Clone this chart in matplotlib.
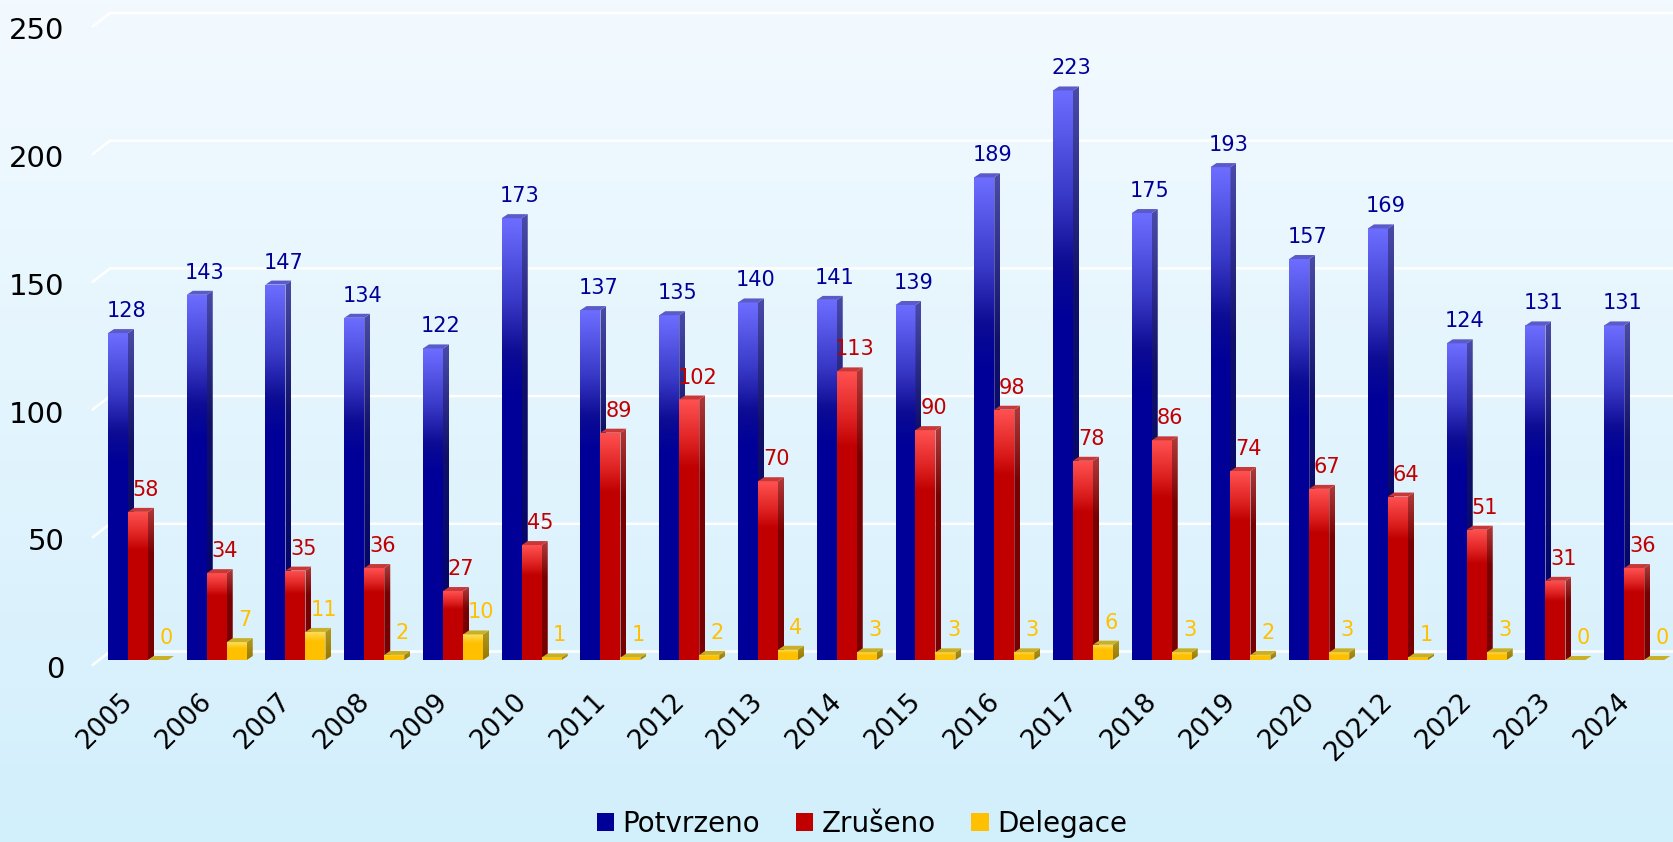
"""Grouped pseudo-3D bar chart: Potvrzeno / Zrušeno / Delegace by year."""

import matplotlib

matplotlib.use("Agg")
import matplotlib.pyplot as plt
import numpy as np
from matplotlib.colors import to_rgb
from matplotlib.patches import Polygon, Rectangle
from matplotlib.transforms import ScaledTranslation

YEARS = ["2005", "2006", "2007", "2008", "2009", "2010", "2011", "2012",
         "2013", "2014", "2015", "2016", "2017", "2018", "2019", "2020",
         "20212", "2022", "2023", "2024"]
POTVRZENO = [128, 143, 147, 134, 122, 173, 137, 135, 140, 141,
             139, 189, 223, 175, 193, 157, 169, 124, 131, 131]
ZRUSENO = [58, 34, 35, 36, 27, 45, 89, 102, 70, 113,
           90, 98, 78, 86, 74, 67, 64, 51, 31, 36]
DELEGACE = [0, 7, 11, 2, 10, 1, 1, 2, 4, 3,
            3, 3, 6, 3, 2, 3, 1, 3, 0, 0]
SERIES = ["Potvrzeno", "Zrušeno", "Delegace"]
YTICKS = [0, 50, 100, 150, 200, 250]

W, H, DPI = 1674, 842, 100
GROUP_PX = 78.75          # pixels between group centres
PX_PER_UNIT = 2.555       # pixels per value unit
BAR_W = 20 / GROUP_PX
DEPTH_X = 6 / GROUP_PX
DEPTH_Y = 4 / PX_PER_UNIT

STYLE = {
    "Potvrzeno": dict(
        face=[(0, "#6c6cff"), (0.18, "#3a3ac8"), (0.3, "#0c0c94"),
              (0.4, "#000099"), (1, "#000099")],
        side=[(0, "#4a4aa8"), (0.35, "#10106a"), (1, "#00006a")],
        top="#5a5ac8", text="#000099", legend="#000099"),
    "Zrušeno": dict(
        face=[(0, "#ff5050"), (0.15, "#e02424"), (0.26, "#c00000"),
              (1, "#c00000")],
        side=[(0, "#b03a3a"), (0.3, "#780000"), (1, "#780000")],
        top="#c83838", text="#c00000", legend="#c00000"),
    "Delegace": dict(
        face=[(0, "#ffe060"), (0.35, "#ffc000"), (1, "#ffc000")],
        side=[(0, "#b09a20"), (1, "#9a7800")],
        top="#c8b028", text="#ffc000", legend="#ffc000"),
}


def gradient(ax, stops, extent, clip, zorder, n=96):
    t = np.linspace(0, 1, n)
    pos = [s[0] for s in stops]
    cols = np.array([to_rgb(s[1]) for s in stops])
    rgb = np.stack([np.interp(t, pos, cols[:, k]) for k in range(3)], axis=-1)
    img = ax.imshow(rgb[:, None, :], extent=extent, origin="upper",
                    aspect="auto", interpolation="bilinear", zorder=zorder)
    img.set_clip_path(clip)


def draw_bar(ax, xc, v, style, z):
    x0, x1 = xc - BAR_W / 2, xc + BAR_W / 2
    if v > 0:
        face = Rectangle((x0, 0), BAR_W, v, transform=ax.transData,
                         facecolor="none", edgecolor="none")
        gradient(ax, style["face"], [x0, x1, 0, v], face, z)
        side = Polygon([(x1, 0), (x1 + DEPTH_X, DEPTH_Y),
                        (x1 + DEPTH_X, v + DEPTH_Y), (x1, v)],
                       closed=True, transform=ax.transData)
        gradient(ax, style["side"], [x1, x1 + DEPTH_X, 0, v + DEPTH_Y],
                 side, z)
    top = Polygon([(x0, v), (x1, v), (x1 + DEPTH_X, v + DEPTH_Y),
                   (x0 + DEPTH_X, v + DEPTH_Y)], closed=True,
                  facecolor=style["top"], edgecolor="none", zorder=z + 0.01)
    ax.add_patch(top)


fig = plt.figure(figsize=(W / DPI, H / DPI), dpi=DPI)

# background gradient
bg = fig.add_axes([0, 0, 1, 1], zorder=-10)
top_c, bot_c = np.array(to_rgb("#f3faff")), np.array(to_rgb("#d2effc"))
tt = np.linspace(0, 1, 256)[:, None, None]
bg.imshow(top_c * (1 - tt) + bot_c * tt, aspect="auto", extent=[0, 1, 0, 1])
bg.set_axis_off()

ax_left, ax_right = 92, W
ax_top, ax_bottom = 13, 665
ax = fig.add_axes([ax_left / W, (H - ax_bottom) / H,
                   (ax_right - ax_left) / W, (ax_bottom - ax_top) / H])
ax.patch.set_alpha(0)
for s in ax.spines.values():
    s.set_visible(False)

xl = -(138 - ax_left) / GROUP_PX
xr = (ax_right - 138) / GROUP_PX
yb = -5 / PX_PER_UNIT
yt = 250 + 8.5 / PX_PER_UNIT

# back-wall gridlines with slanted floor edge
for v in YTICKS:
    ax.plot([xl, xl + 18 / GROUP_PX, xr],
            [v - 5.5 / PX_PER_UNIT, v + 8.5 / PX_PER_UNIT, v + 8.5 / PX_PER_UNIT],
            color="white", lw=1.8, zorder=1, solid_capstyle="butt",
            clip_on=False)

values = {"Potvrzeno": POTVRZENO, "Zrušeno": ZRUSENO, "Delegace": DELEGACE}
for i in range(len(YEARS)):
    for k, name in enumerate(SERIES):
        xc = i + (k - 1) * BAR_W
        v = values[name][i]
        st = STYLE[name]
        draw_bar(ax, xc, v, st, 3 + k * 0.1)
        ax.annotate(str(v), (xc, v), xytext=(5.8, 11.5),
                    textcoords="offset points", ha="center", va="baseline",
                    fontsize=15, color=st["text"], zorder=10)

ax.set_xlim(xl, xr)
ax.set_ylim(yb, yt)
ax.set_yticks(YTICKS)
ax.set_yticklabels([str(v) for v in YTICKS], fontsize=21)
ax.tick_params(axis="y", length=0, pad=20)
shift = ScaledTranslation(0, -7 / DPI, fig.dpi_scale_trans)
for lab in ax.get_yticklabels():
    lab.set_transform(lab.get_transform() + shift)
ax.set_xticks(range(len(YEARS)))
ax.set_xticklabels(YEARS, rotation=45, ha="right", fontsize=19)
ax.tick_params(axis="x", length=0, pad=17)

handles = [Rectangle((0, 0), 1, 1, facecolor=STYLE[n]["legend"],
                     edgecolor="none") for n in SERIES]
fig.legend(handles, SERIES, loc="center", ncol=3, frameon=False,
           bbox_to_anchor=(862 / W, 18 / H), bbox_transform=fig.transFigure,
           fontsize=20, handlelength=0.63, handleheight=0.63,
           handletextpad=0.3, columnspacing=1.28, borderpad=0)

fig.savefig("out.png", dpi=DPI)
